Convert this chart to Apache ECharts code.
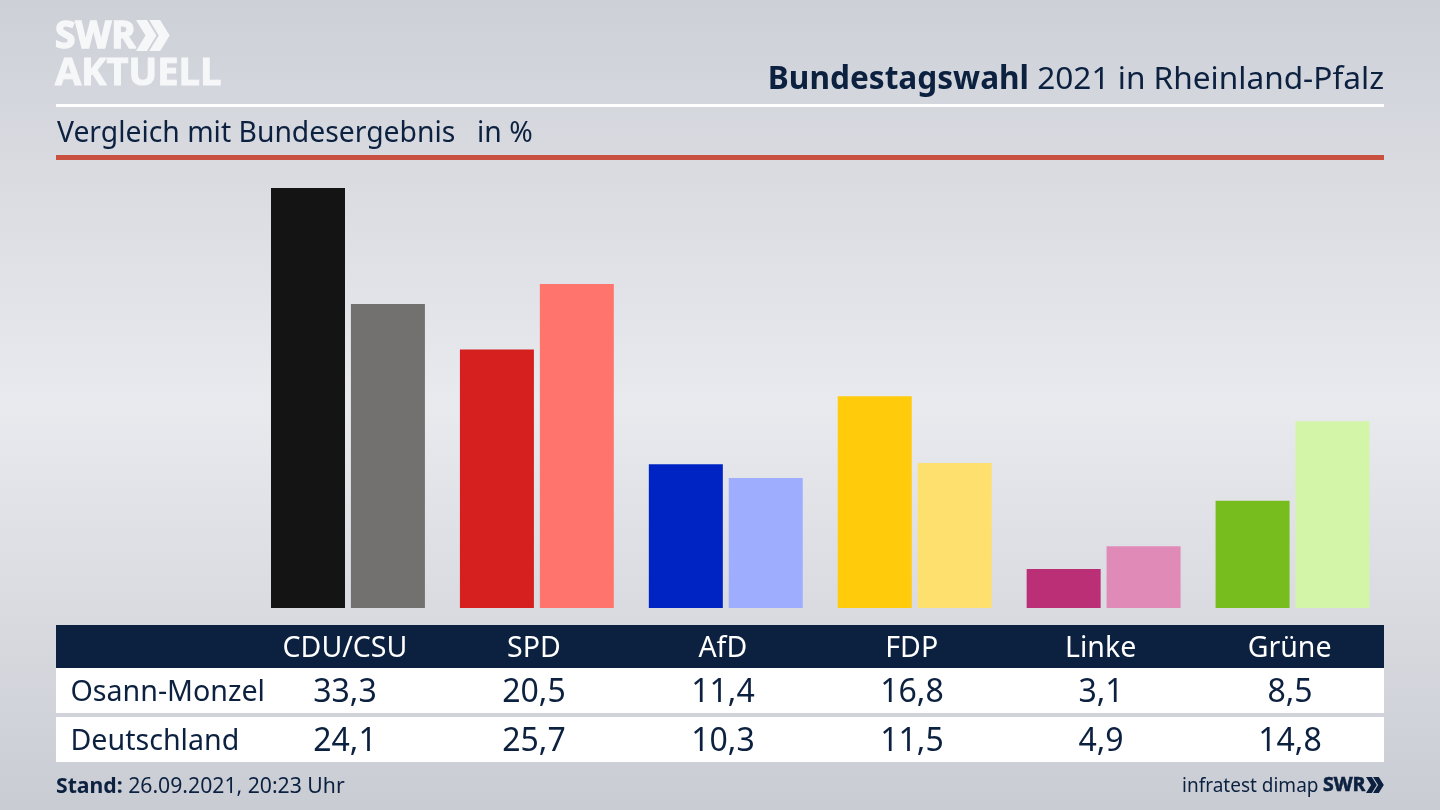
<!DOCTYPE html>
<html>
<head>
<meta charset="utf-8">
<style>
html, body { margin: 0; padding: 0; background: #dfe1e6; }
#chart { width: 1440px; height: 810px; }
</style>
<script src="https://cdn.jsdelivr.net/npm/echarts@6/dist/echarts.min.js"></script>
</head>
<body>
<div id="chart"></div>
<script>
const parties = ['CDU/CSU', 'SPD', 'AfD', 'FDP', 'Linke', 'Grüne'];
const osannMonzel = [33.3, 20.5, 11.4, 16.8, 3.1, 8.5];
const deutschland = [24.1, 25.7, 10.3, 11.5, 4.9, 14.8];
const osannColors = ['#141414', '#d61f1f', '#0024c4', '#ffcb0a', '#bb2f76', '#78bd1e'];
const deutschlandColors = ['#72716f', '#ff756e', '#9fadff', '#fee06f', '#e08ab8', '#d3f5a8'];
const rowNames = ['Osann-Monzel', 'Deutschland'];

const navy = '#0c2140';
const fontName = '"Noto Sans", sans-serif';
const logoFont = '"Open Sans", sans-serif';
const logoWhite = '#f6f7f8';

const myChart = echarts.init(document.getElementById('chart'));

function label(text, x, y, size, opts) {
    return {
        type: 'text',
        z: 5,
        x: x,
        y: y,
        style: Object.assign({
            text: text,
            fontFamily: fontName,
            fontSize: size,
            fill: navy,
            textAlign: 'left',
            textVerticalAlign: 'middle'
        }, opts || {})
    };
}

function box(x, y, w, h, color) {
    return { type: 'rect', z: -1, shape: { x: x, y: y, width: w, height: h }, style: { fill: color } };
}

function chevrons(x, y, w, h, color) {
    // the two arrows of the SWR logo
    const thick = w * 0.32;
    const step = w * 0.39;
    const tip = w * 0.28;
    return [0, 1].map(i => ({
        type: 'polygon',
        z: 5,
        shape: {
            points: [
                [x + i * step, y],
                [x + i * step + thick, y],
                [x + i * step + thick + tip, y + h / 2],
                [x + i * step + thick, y + h],
                [x + i * step, y + h],
                [x + i * step + tip, y + h / 2]
            ]
        },
        style: { fill: color }
    }));
}

// table cells sit 3px left of the bar groups
const cellX = i => 345 + i * 189;

const tableTexts = [];
[osannMonzel, deutschland].forEach((row, r) => {
    const y = r === 0 ? 693 : 742;
    tableTexts.push(label(rowNames[r], 70.5, y, 28.6));
    row.forEach((v, i) => {
        tableTexts.push(label(v.toFixed(1).replace('.', ','), cellX(i), y, 32, { textAlign: 'center' }));
    });
});

const option = {
    animation: false,
    backgroundColor: {
        type: 'linear', x: 0, y: 0, x2: 0, y2: 1,
        colorStops: [
            { offset: 0, color: '#cdd0d7' },
            { offset: 0.5, color: '#e9eaee' },
            { offset: 1, color: '#c9ccd3' }
        ]
    },
    grid: { left: 253.5, right: 53, top: 154, bottom: 202 },
    xAxis: {
        type: 'category',
        data: parties,
        axisLine: { show: false },
        axisTick: { show: false },
        axisLabel: {
            color: '#ffffff',
            fontFamily: fontName,
            fontSize: 28.5,
            margin: 26,
            padding: [0, 6, 0, 0]
        }
    },
    yAxis: { type: 'value', min: 0, max: 36, show: false },
    series: [
        {
            name: rowNames[0],
            type: 'bar',
            barWidth: 74,
            barGap: '8%',
            data: osannMonzel.map((v, i) => ({ value: v, itemStyle: { color: osannColors[i] } }))
        },
        {
            name: rowNames[1],
            type: 'bar',
            barWidth: 74,
            data: deutschland.map((v, i) => ({ value: v, itemStyle: { color: deutschlandColors[i] } }))
        }
    ],
    graphic: [
        box(56, 104, 1328, 3, '#ffffff'),
        box(56, 155, 1328, 5, '#c8523f'),
        box(56, 625, 1328, 43, navy),
        box(56, 668, 1328, 45, '#ffffff'),
        box(56, 717, 1328, 45, '#ffffff'),

        label('SWR', 55, 37, 37, { fill: logoWhite, fontWeight: 'bold', fontFamily: logoFont, stroke: logoWhite, lineWidth: 1.5 }),
        ...chevrons(136, 20, 34, 31, logoWhite),
        label('AKTUELL', 55, 74, 38, { fill: logoWhite, fontWeight: 'bold', fontFamily: logoFont, stroke: logoWhite, lineWidth: 1 }),

        label('{b|Bundestagswahl} 2021 in Rheinland-Pfalz', 1384, 80, 31.6, {
            textAlign: 'right',
            rich: { b: { fontFamily: fontName, fontWeight: 'bold', fontSize: 31.6, fill: navy } }
        }),
        label('Vergleich mit Bundesergebnis', 57, 134, 28.3),
        label('in %', 477, 134, 28.3),

        ...tableTexts,

        label('{b|Stand:} 26.09.2021, 20:23 Uhr', 56, 787, 21.2, {
            rich: { b: { fontFamily: fontName, fontWeight: 'bold', fontSize: 21.2, fill: navy } }
        }),
        label('infratest dimap', 1182, 787, 19),
        label('SWR', 1323, 785, 19.5, { fontWeight: 'bold', fontFamily: logoFont, stroke: navy, lineWidth: 0.6 }),
        ...chevrons(1366, 777, 18, 16, navy)
    ]
};

myChart.setOption(option);
</script>
</body>
</html>
